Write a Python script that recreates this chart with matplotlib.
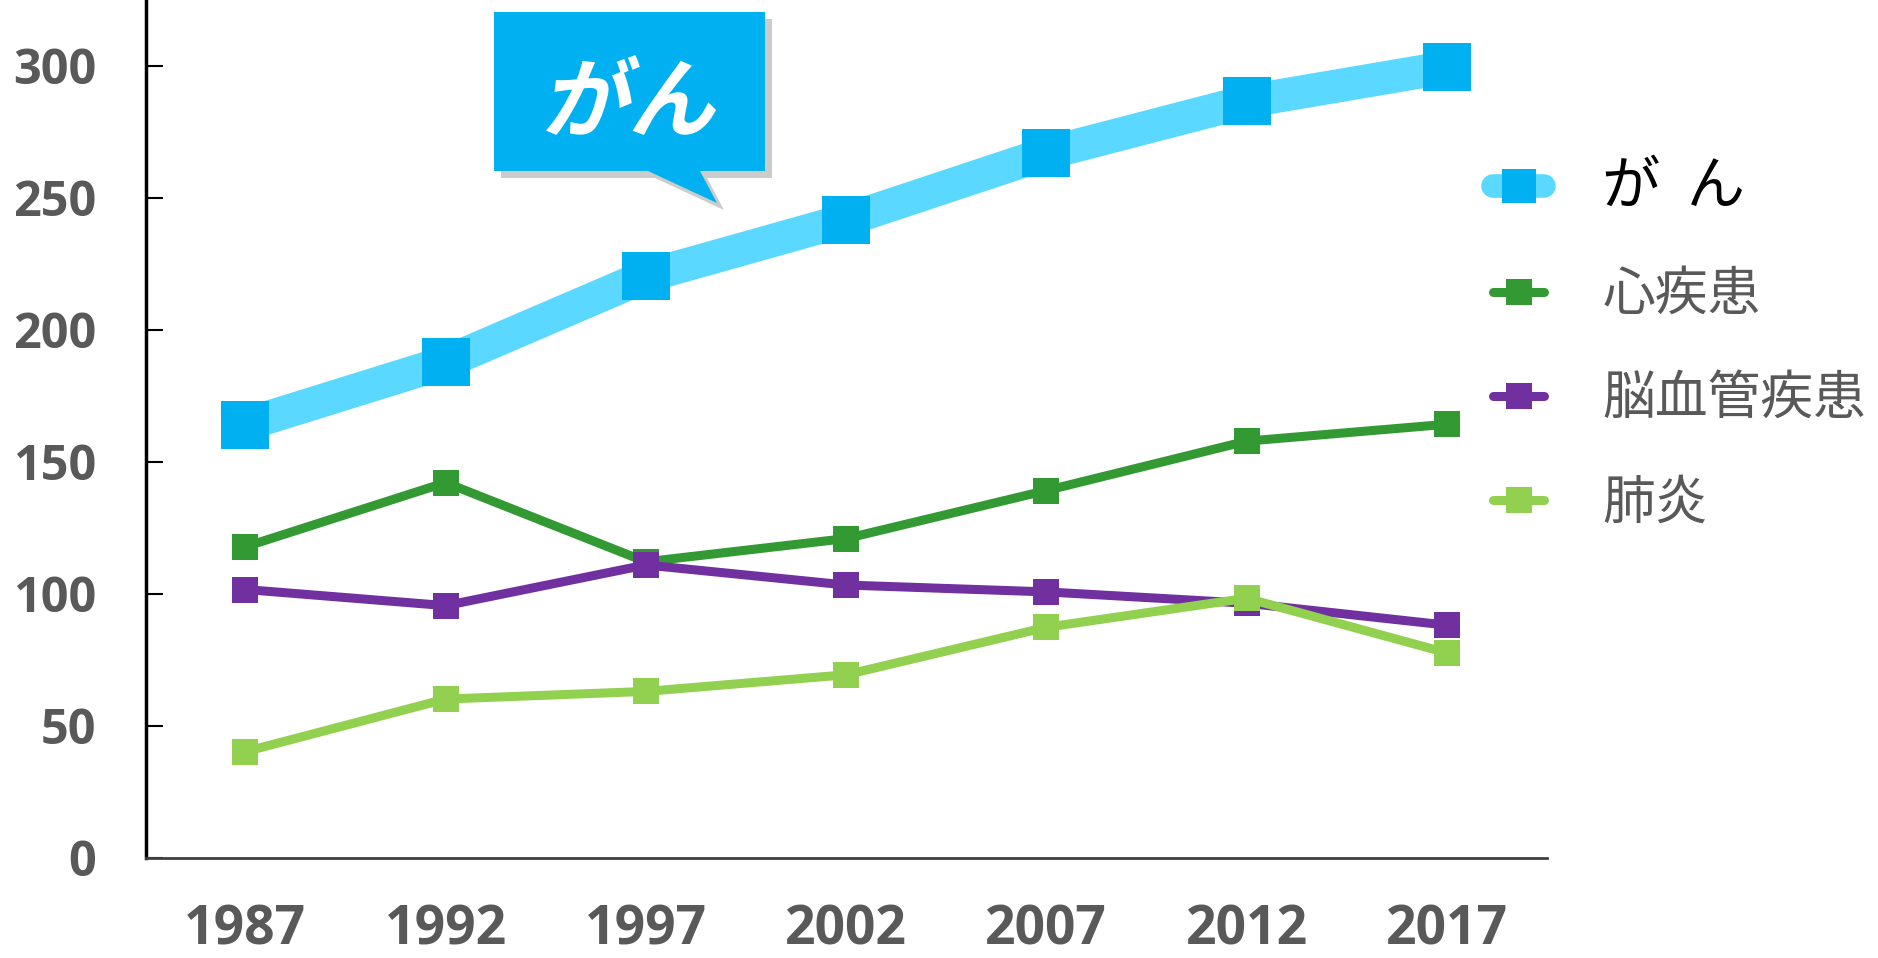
import numpy as np
import matplotlib.pyplot as plt
from matplotlib.patches import Polygon, PathPatch
from matplotlib.textpath import TextPath
from matplotlib.font_manager import FontProperties
from matplotlib.transforms import Affine2D

plt.rcParams['font.family'] = ['Noto Sans CJK JP', 'DejaVu Sans']

years = [1987, 1992, 1997, 2002, 2007, 2012, 2017]
cancer = [164.2, 187.8, 220.4, 241.7, 266.9, 286.6, 299.5]
heart = [117.9, 142.2, 112.2, 121.0, 139.2, 157.9, 164.3]
cerebro = [101.7, 95.6, 111.0, 103.4, 100.8, 96.5, 88.2]
pneumonia = [40.3, 60.2, 63.1, 69.4, 87.4, 98.4, 77.7]
labels = ['が  ん', '心疾患', '脳血管疾患', '肺炎']
yticks = [0, 50, 100, 150, 200, 250, 300]

W, H = 1878, 958
fig = plt.figure(figsize=(W/100, H/100), dpi=100)
ax = fig.add_axes([146/W, 100/H, (1547-146)/W, 858/H])

l_cancer, = ax.plot(years, cancer, '-s', color='#5BD8FF', lw=24, ms=35,
                    mfc='#00B0F0', mec='#00B0F0', mew=0, clip_on=False,
                    solid_capstyle='round', zorder=5)
l_heart, = ax.plot(years, heart, '-s', color='#339933', lw=6.5, ms=18.5,
                   mew=0, clip_on=False, solid_capstyle='round')
l_cereb, = ax.plot(years, cerebro, '-s', color='#7030A0', lw=6.5, ms=18.5,
                   mew=0, clip_on=False, solid_capstyle='round')
l_pneu, = ax.plot(years, pneumonia, '-s', color='#92D050', lw=6.5, ms=18.5,
                  mew=0, clip_on=False, solid_capstyle='round')

ax.set_xlim(1984.52, 2019.5)
ax.set_ylim(0, 325)
ax.set_xticks(years)
ax.set_yticks(yticks)
for s in ['top', 'right']:
    ax.spines[s].set_visible(False)
ax.spines['left'].set_linewidth(2.5)
ax.spines['left'].set_color('black')
ax.spines['bottom'].set_linewidth(2)
ax.spines['bottom'].set_color('#404040')
ax.tick_params(axis='y', direction='in', length=12, width=1.5, pad=36,
               labelsize=35, labelcolor='#595959')
ax.tick_params(axis='x', length=0, pad=33, labelsize=38.5, labelcolor='#595959')
for t in ax.get_yticklabels() + ax.get_xticklabels():
    t.set_family(['Open Sans', 'DejaVu Sans'])
    t.set_fontweight('bold')

leg = fig.legend([l_cancer, l_heart, l_cereb, l_pneu], labels,
                 loc='upper left', bbox_to_anchor=(1493/W, 1-157/H),
                 frameon=False, fontsize=38, handlelength=0.97,
                 handletextpad=1.1, labelspacing=0.93, borderpad=0,
                 borderaxespad=0)
h0 = leg.legend_handles[0]
h0.set_markersize(24)
h0.set_linewidth(17)
texts = leg.get_texts()
texts[0].set_fontsize(42)
texts[0].set_color('black')
for t in texts[1:]:
    t.set_color('#595959')


# callout box in pixel coords (top-left origin)
def px(pts):
    return [(x/W, 1-y/H) for x, y in pts]


box = [(494, 12), (765, 12), (765, 171), (700, 171), (717, 203), (648, 171), (494, 171)]
shadow = [(x+7, y+7) for x, y in box]
fig.patches.append(Polygon(px(shadow), closed=True, transform=fig.transFigure,
                           fc='#CCCCCC', ec='none', zorder=8))
fig.patches.append(Polygon(px(box), closed=True, transform=fig.transFigure,
                           fc='#00B0F0', ec='none', zorder=9))

fp = FontProperties(family='Noto Sans CJK JP', weight='bold')
tp = TextPath((0, 0), 'がん', size=87, prop=fp)
bb = tp.get_extents()
cx, cy = (bb.x0+bb.x1)/2, (bb.y0+bb.y1)/2
tr = (Affine2D().translate(-cx, -cy).skew_deg(12, 0)
      .translate(636, H-95).scale(1/100) + fig.dpi_scale_trans)
fig.patches.append(PathPatch(tp, transform=tr, fc='white', ec='none', zorder=10))

fig.savefig('out.png', dpi=100)
